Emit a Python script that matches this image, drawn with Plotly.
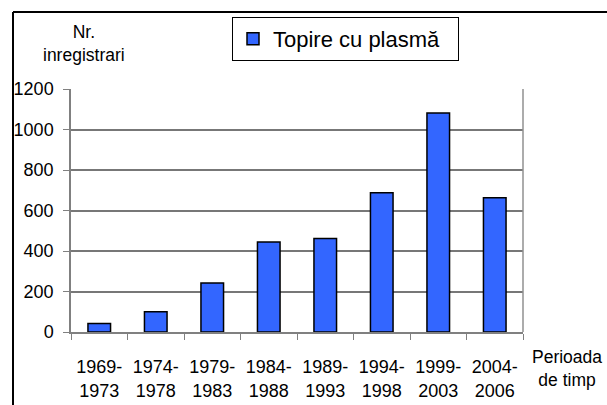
import plotly.graph_objects as go

categories = ["1969-<br>1973", "1974-<br>1978", "1979-<br>1983", "1984-<br>1988",
              "1989-<br>1993", "1994-<br>1998", "1999-<br>2003", "2004-<br>2006"]
values = [42, 100, 242, 444, 462, 688, 1082, 663]
series_name = "Topire cu plasmă"
y_ticks = [0, 200, 400, 600, 800, 1000, 1200]

FONT = "Liberation Sans, Arial, sans-serif"
W, H = 607, 405
L, R, T, B = 71, 84, 89, 73
pw, ph = W - L - R, H - T - B

def px(x):
    return (x - L) / pw

def py(y):
    return (H - B - y) / ph

fig = go.Figure()
fig.add_trace(go.Bar(
    x=categories, y=values, name=series_name,
    marker=dict(color="#3366FF", line=dict(color="black", width=1.5)),
    showlegend=True,
))

fig.update_layout(
    width=W, height=H,
    margin=dict(l=L, r=R, t=T, b=B, autoexpand=False),
    paper_bgcolor="white", plot_bgcolor="white",
    font=dict(family=FONT, color="black", size=18),
    bargap=0.6,
    showlegend=True,
    legend=dict(
        x=px(232), y=py(17), xanchor="left", yanchor="top",
        orientation="h", entrywidth=180, entrywidthmode="pixels",
        bordercolor="black", borderwidth=1, bgcolor="white",
        font=dict(size=22, family=FONT),
        itemwidth=30,
    ),
    xaxis=dict(
        showgrid=False, showline=True, linecolor="#808080", linewidth=1.5,
        ticks="outside", tickson="boundaries", ticklen=6, tickcolor="#808080",
        tickfont=dict(size=18), mirror=False, ticklabelstandoff=18,
        automargin=False,
    ),
    yaxis=dict(
        range=[0, 1200], tickvals=y_ticks, showgrid=True, gridcolor="#777777", gridwidth=1.5,
        showline=True, linecolor="#808080", linewidth=1.5,
        ticks="outside", ticklen=6, tickcolor="#808080",
        tickfont=dict(size=18), zeroline=False, ticklabelstandoff=6,
        automargin=False,
    ),
    shapes=[
        dict(type="line", xref="paper", yref="paper", x0=1, x1=1, y0=0, y1=1,
             line=dict(color="#909090", width=1.5)),
        dict(type="line", xref="paper", yref="paper", x0=px(13), x1=px(13), y0=py(H + 10), y1=py(12),
             line=dict(color="black", width=2)),
        dict(type="line", xref="paper", yref="paper", x0=px(13), x1=px(W + 10), y0=py(12), y1=py(12),
             line=dict(color="black", width=2)),
    ],
    annotations=[
        dict(text="Nr.<br>inregistrari", xref="paper", yref="paper", x=px(84), y=py(20),
             xanchor="center", yanchor="top", showarrow=False, align="center",
             font=dict(size=17.5, family=FONT)),
        dict(text="Perioada<br>de timp", xref="paper", yref="paper", x=px(567), y=py(345),
             xanchor="center", yanchor="top", showarrow=False, align="center",
             font=dict(size=17.5, family=FONT)),
    ],
)

fig.write_html("out.html", config={"displayModeBar": False},
               post_script="document.body.style.margin='0';document.body.style.overflow='hidden';")
